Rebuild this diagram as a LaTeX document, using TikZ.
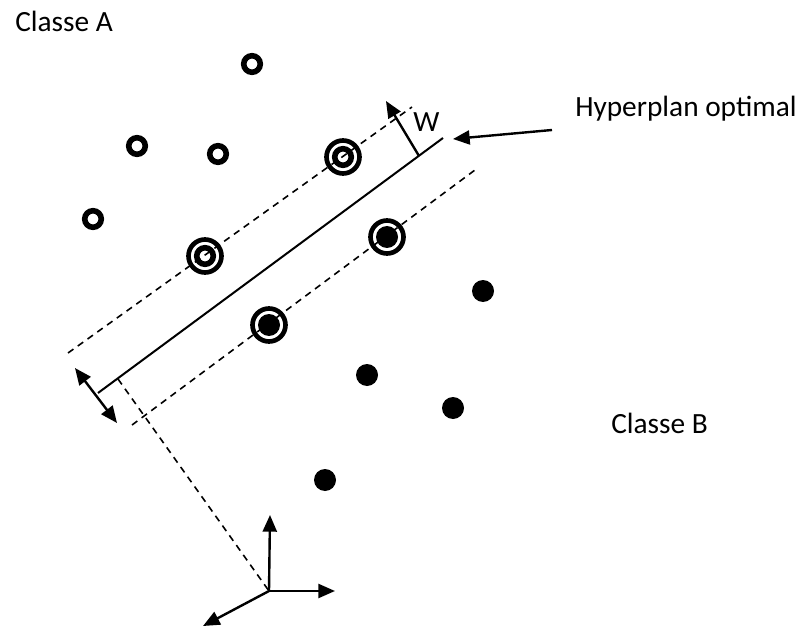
\documentclass[tikz,border=0pt]{standalone}
\usepackage{fontspec}
\setmainfont{Carlito}
\usetikzlibrary{arrows.meta}

\begin{document}
\begin{tikzpicture}[x=0.75pt,y=-0.75pt,
        opendot/.style={circle,draw,line width=4.2pt,inner sep=0pt,minimum size=12.4pt},
        fulldot/.style={circle,fill,inner sep=0pt,minimum size=16.5pt},
        ring/.style={circle,draw,line width=3.5pt,inner sep=0pt,minimum size=24.75pt},
        lbl/.style={font=\fontsize{22}{26}\selectfont,inner sep=0pt,anchor=base west},
        margin/.style={line width=1.2pt,dash pattern=on 5pt off 4pt},
        arr/.style={-{Triangle[length=12.5pt,width=10.5pt]},line width=1.8pt}]
    \useasboundingbox (0,0) rectangle (799,627);
    \node[lbl] (ca) at (15,32) {Classe A};
    \node[lbl] (cb) at (611,433) {Classe B};
    \node[lbl] (hyp) at (575,117) {Hyperplan optimal};
    \node[lbl] (w) at (413,132) {W};
    \node[opendot] (a1) at (252,64) {};
    \node[opendot] (a2) at (137,146) {};
    \node[opendot] (a3) at (218,154) {};
    \node[opendot] (a4) at (93,219) {};
    \node[opendot] (sa1) at (205,256) {};
    \node[ring] at (sa1) {};
    \node[opendot] (sa2) at (343,157) {};
    \node[ring] at (sa2) {};
    \node[fulldot] (sb1) at (387,237) {};
    \node[ring] at (sb1) {};
    \node[fulldot] (sb2) at (269,325) {};
    \node[ring] at (sb2) {};
    \node[fulldot] (b1) at (483,291) {};
    \node[fulldot] (b2) at (367,375) {};
    \node[fulldot] (b3) at (453,408) {};
    \node[fulldot] (b4) at (325,480) {};
    \coordinate (h1) at (98,393);
    \coordinate (h2) at (443,138);
    \coordinate (ma1) at (68,353);
    \coordinate (ma2) at (412,107);
    \coordinate (mb1) at (132,425);
    \coordinate (mb2) at (475,170);
    \coordinate (f) at (118,379);
    \coordinate (w0) at (419,156);
    \coordinate (w1) at (386,101);
    \coordinate (d1) at (75,368);
    \coordinate (d2) at (117,423);
    \coordinate (hp0) at (552,130);
    \coordinate (hp1) at (453,139);
    \coordinate (o) at (269,591);
    \coordinate (ox) at (335,591);
    \coordinate (oy) at (270,515);
    \coordinate (oz) at (203,626);
    \draw[line width=1.5pt] (h1) -- (h2);
    \draw[margin] (ma1) -- (ma2);
    \draw[margin] (mb1) -- (mb2);
    \draw[margin] (f) -- (o);
    \draw[arr] (w0) -- (w1);
    \draw[arr,{Triangle[length=12.5pt,width=10.5pt]}-{Triangle[length=12.5pt,width=10.5pt]}] (d1) -- (d2);
    \draw[arr] (hp0) -- (hp1);
    \draw[arr] (o) -- (ox);
    \draw[arr] (o) -- (oy);
    \draw[arr] (o) -- (oz);
\end{tikzpicture}
\end{document}
